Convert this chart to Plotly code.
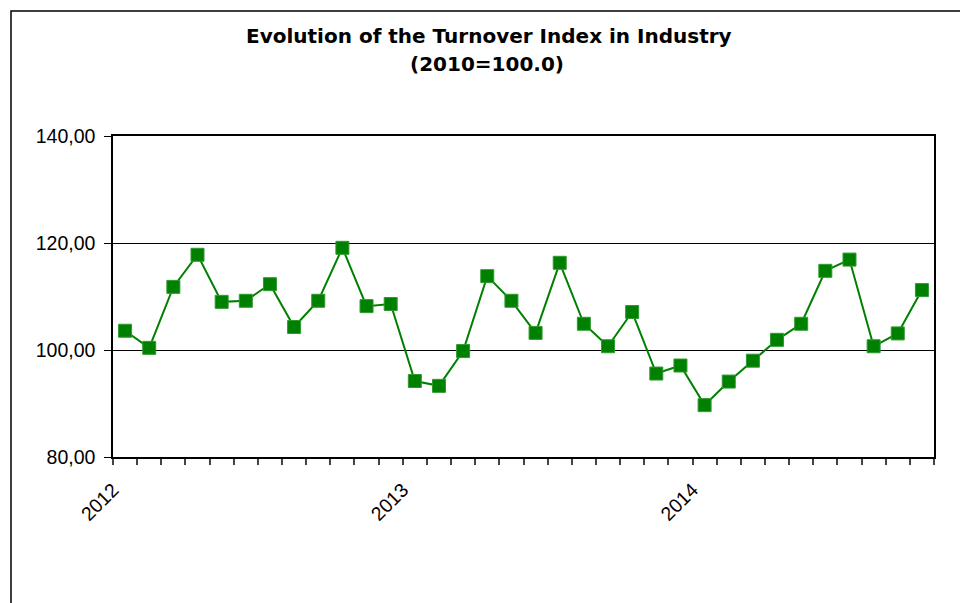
import plotly.graph_objects as go

title_lines = ["Evolution of the Turnover Index in Industry", "(2010=100.0)"]
months = [f"{y}-{m:02d}" for y in (2012, 2013, 2014) for m in range(1, 13)][:34]
values = [103.6, 100.4, 111.8, 117.8, 109.0, 109.2, 112.3, 104.3, 109.2, 119.1,
          108.2, 108.6, 94.2, 93.3, 99.8, 113.8, 109.2, 103.2, 116.3, 104.9,
          100.7, 107.1, 95.6, 97.1, 89.7, 94.1, 98.0, 101.9, 104.9, 114.8,
          116.9, 100.7, 103.1, 111.2]
year_labels = {0: "2012", 12: "2013", 24: "2014"}
y_ticks = [80, 100, 120, 140]
y_tick_text = ["80,00", "100,00", "120,00", "140,00"]

xpos = [i + 0.5 for i in range(len(months))]
tickvals = list(range(len(months) + 1))
ticktext = [year_labels.get(i, "") for i in tickvals]

# page body has an 8px margin; figure sized so plot lands at same screen pixels
W, H = 960, 595
L, R, T, B = 105, 34, 128, 146
pw, ph = W - L - R, H - T - B

def px_to_paper_y(fy):
    return 1 + (T - fy) / ph

def px_to_paper_x(fx):
    return (fx - L) / pw

fig = go.Figure()
fig.add_trace(go.Scatter(
    x=xpos, y=values, mode="lines+markers",
    line=dict(color="#008000", width=2),
    marker=dict(symbol="square", size=13, color="#008000",
                line=dict(width=1, color="#2f9a2f")),
    text=months, hoverinfo="text+y",
))

title_font = dict(size=20, family="DejaVu Sans, sans-serif", color="black")
annotations = [
    dict(text=f"<b>{title_lines[0]}</b>", xref="paper", yref="paper",
         x=px_to_paper_x(480.5), y=px_to_paper_y(28), xanchor="center",
         yanchor="middle", showarrow=False, font=title_font),
    dict(text=f"<b>{title_lines[1]}</b>", xref="paper", yref="paper",
         x=px_to_paper_x(479), y=px_to_paper_y(56), xanchor="center",
         yanchor="middle", showarrow=False, font=title_font),
]

fig.update_layout(
    width=W, height=H,
    margin=dict(l=L, r=R, t=T, b=B),
    paper_bgcolor="white", plot_bgcolor="white",
    showlegend=False,
    font=dict(family="Liberation Sans, Arial, sans-serif", color="black", size=19.5),
    annotations=annotations,
    xaxis=dict(range=[0, len(months)], tickmode="array", tickvals=tickvals,
               ticktext=ticktext, tickangle=-45, ticks="outside", ticklen=6,
               tickcolor="#444", tickwidth=1.5, ticklabelstandoff=6,
               tickfont=dict(size=19.5),
               showgrid=False, zeroline=False, showline=True, linecolor="black",
               linewidth=1.5, mirror=True, fixedrange=True),
    yaxis=dict(range=[80, 140], tickmode="array", tickvals=y_ticks,
               ticktext=y_tick_text, ticks="outside", ticklen=7, tickcolor="black",
               ticklabelstandoff=5,
               tickfont=dict(size=19.5),
               showgrid=True, gridcolor="black", gridwidth=1,
               zeroline=False, showline=True, linecolor="black", linewidth=1.5,
               mirror=True, fixedrange=True),
    shapes=[dict(type="rect", xref="paper", yref="paper",
                 x0=(3 - L) / pw, x1=1.3, y0=-0.8, y1=1 + (T - 3) / ph,
                 line=dict(color="black", width=1.5), layer="below")],
)

fig.write_html("out.html")
